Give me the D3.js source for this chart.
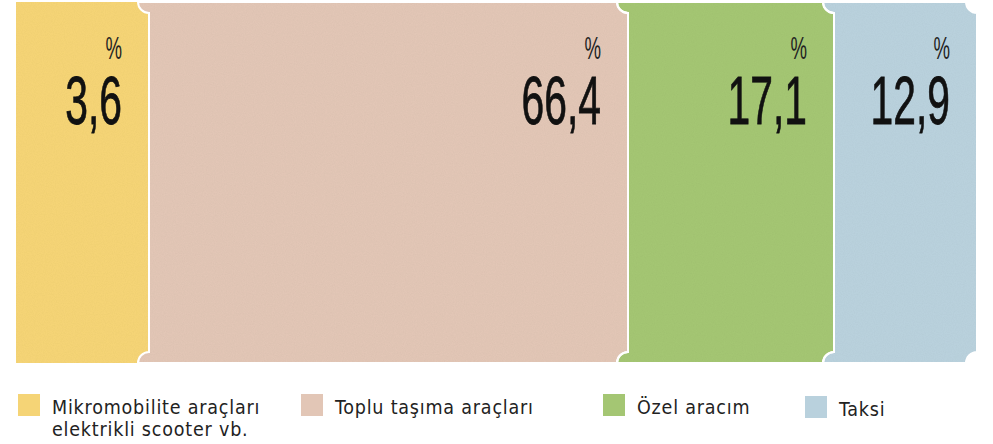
<!DOCTYPE html>
<html>
<head>
<meta charset="utf-8">
<script src="https://cdn.jsdelivr.net/npm/d3@7"></script>
<style>
  html, body { margin: 0; padding: 0; background: #fff; }
  svg { display: block; }
</style>
</head>
<body>
<div id="chart"></div>
<script>
// data
var categories = ["Mikromobilite araçları", "Toplu taşıma araçları", "Özel aracım", "Taksi"];
var notes = ["elektrikli scooter vb.", "", "", ""];
var values = [3.6, 66.4, 17.1, 12.9];
var colors = ["#f5d476", "#e2c6b6", "#a4c673", "#b9d1dd"];

var W = 993, H = 444;
var left = 16, yTop = 2, yBot = 363, r = 11;

var svg = d3.select("#chart").append("svg")
    .attr("width", W)
    .attr("height", H);

// light paper grain on the blocks
var defs = svg.append("defs");
var f = defs.append("filter").attr("id", "grain")
    .attr("x", "-5%").attr("y", "-5%").attr("width", "110%").attr("height", "110%");
f.append("feTurbulence").attr("type", "fractalNoise").attr("baseFrequency", 0.9).attr("numOctaves", 2).attr("seed", 3).attr("result", "n");
f.append("feColorMatrix").attr("in", "n").attr("type", "matrix")
    .attr("values", "0 0 0 0 0  0 0 0 0 0  0 0 0 0 0  0.08 0 0 0 -0.025").attr("result", "a");
f.append("feComposite").attr("in", "a").attr("in2", "SourceGraphic").attr("operator", "in").attr("result", "g");
var fm = f.append("feMerge");
fm.append("feMergeNode").attr("in", "SourceGraphic");
fm.append("feMergeNode").attr("in", "g");

// block widths: the design is not proportional, so map values through a polylinear scale
var widthScale = d3.scaleLinear()
    .domain(d3.sort(values))
    .range([133, 143, 206, 479]);

var xs = [];
var acc = left;
values.forEach(function (v, i) {
    var w = widthScale(v);
    xs.push({x0: acc, x1: acc + w, v: v, i: i});
    acc += w;
});

function blockPath(d) {
    var p = d3.path();
    var tab = d.i > 0;
    p.moveTo(tab ? d.x0 - r : d.x0, yTop);
    p.lineTo(d.x1 - r, yTop);
    p.arc(d.x1, yTop, r, Math.PI, Math.PI / 2, true);
    p.lineTo(d.x1, yBot - r);
    p.arc(d.x1, yBot, r, -Math.PI / 2, -Math.PI, true);
    p.lineTo(tab ? d.x0 - r : d.x0, yBot);
    if (tab) {
        p.arc(d.x0, yBot, r, Math.PI, Math.PI * 1.5, false);
        p.lineTo(d.x0, yTop + r);
        p.arc(d.x0, yTop, r, Math.PI / 2, Math.PI, false);
    } else {
        p.lineTo(d.x0, yTop);
    }
    p.closePath();
    return p.toString();
}

svg.append("g").selectAll("path")
    .data(xs)
    .enter()
    .append("path")
    .attr("d", blockPath)
    .attr("fill", function (d) { return colors[d.i]; })
    .attr("filter", "url(#grain)");

svg.append("g").selectAll("path")
    .data(xs.filter(function (d) { return d.i > 0; }))
    .enter()
    .append("path")
    .attr("d", blockPath)
    .attr("fill", "none")
    .attr("stroke", "#fff")
    .attr("stroke-width", 2);

var fmt = d3.formatLocale({decimal: ",", thousands: ".", grouping: [3], currency: ["", "₺"]}).format(".1f");

var labels = svg.append("g");
labels.selectAll("text.num")
    .data(xs)
    .enter()
    .append("text")
    .attr("class", "num")
    .attr("transform", function (d) { return "translate(" + (d.x1 - 27) + ",124) scale(0.6,1)"; })
    .attr("text-anchor", "end")
    .attr("font-family", "'Liberation Sans Narrow', 'Arial Narrow', sans-serif")
    .attr("font-size", 68)
    .attr("fill", "#111")
    .attr("stroke", "#111")
    .attr("stroke-width", 0.8)
    .text(function (d) { return fmt(d.v); });

labels.selectAll("text.pct")
    .data(xs)
    .enter()
    .append("text")
    .attr("class", "pct")
    .attr("transform", function (d) { return "translate(" + (d.x1 - 27) + ",59) scale(0.6,1)"; })
    .attr("text-anchor", "end")
    .attr("font-family", "'Liberation Sans Narrow', 'Arial Narrow', sans-serif")
    .attr("font-size", 31)
    .attr("fill", "#222")
    .text("%");

// legend
var legendX = [18, 301, 603, 805];
var legendDy = [0, 0, 0, 2];
var leg = svg.append("g").selectAll("g")
    .data(categories)
    .enter()
    .append("g")
    .attr("transform", function (d, i) { return "translate(" + legendX[i] + "," + (394 + legendDy[i]) + ")"; });

leg.append("rect")
    .attr("width", 22)
    .attr("height", 22)
    .attr("fill", function (d, i) { return colors[i]; });

leg.append("text")
    .attr("x", 34)
    .attr("y", 20)
    .attr("font-family", "'DejaVu Sans Condensed', 'DejaVu Sans', sans-serif")
    .attr("font-size", 19.5)
    .attr("letter-spacing", 0.8)
    .attr("fill", "#222")
    .text(function (d) { return d; });

leg.append("text")
    .attr("x", 34)
    .attr("y", 42)
    .attr("font-family", "'DejaVu Sans Condensed', 'DejaVu Sans', sans-serif")
    .attr("font-size", 19.5)
    .attr("letter-spacing", 0.8)
    .attr("fill", "#222")
    .text(function (d, i) { return notes[i]; });
</script>
</body>
</html>
